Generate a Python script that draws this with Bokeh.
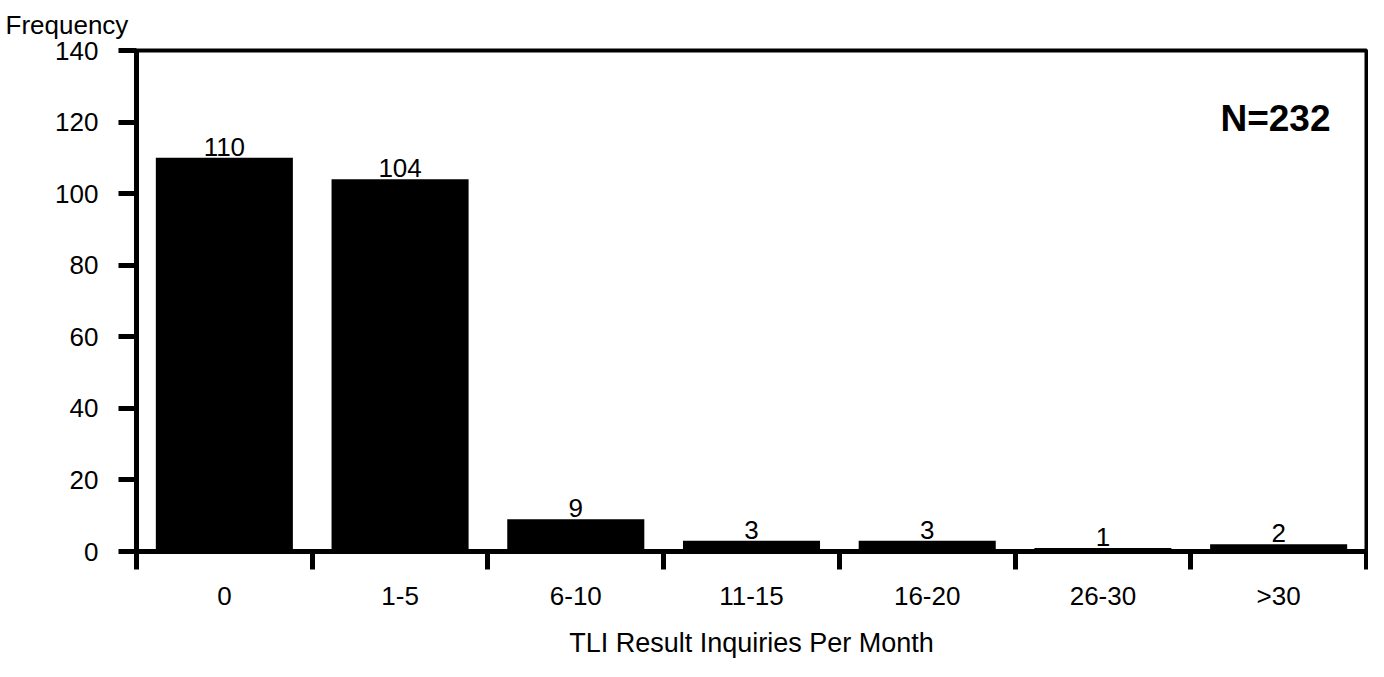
from bokeh.plotting import figure
from bokeh.models import Range1d, FixedTicker, Label, ColumnDataSource
from bokeh.core.properties import value
from bokeh.embed import file_html
from bokeh.resources import INLINE
import numpy as np

categories = ["0", "1-5", "6-10", "11-15", "16-20", "26-30", ">30"]
counts = [110, 104, 9, 3, 3, 1, 2]
y_ticks = [0, 20, 40, 60, 80, 100, 120, 140]
x_title = "TLI Result Inquiries Per Month"
y_title = "Frequency"
n_text = "N=232"

FONT = "Liberation Sans"
pos = np.arange(len(categories)) + 0.5

p = figure(width=1368, height=661, output_backend="svg", toolbar_location=None,
           x_range=Range1d(0, len(categories)), y_range=Range1d(0, 140),
           min_border_left=136, min_border_top=50, min_border_right=2,
           min_border_bottom=110)
p.grid.visible = False
p.background_fill_color = "white"
p.border_fill_color = "white"
p.outline_line_color = "black"
p.outline_line_width = 4

# y-axis caption placed as a left-aligned title
p.title.text = y_title
p.title.align = "left"
p.title.vertical_align = "top"
p.title.offset = -131
p.title.standoff = 18
p.title.text_line_height = 0.5
p.title.text_font = FONT
p.title.text_font_size = "26px"
p.title.text_font_style = "normal"
p.title.text_color = "black"

src = ColumnDataSource(dict(x=pos, top=counts, lab=[str(c) for c in counts]))
p.vbar(x="x", top="top", bottom=0, width=0.78, source=src,
       fill_color="black", line_color=None)
p.text(x="x", y="top", text="lab", source=src, text_align="center",
       text_baseline="bottom", text_font=value(FONT),
       text_font_size="26px", text_color="black", y_offset=-2)

# x axis
xa = p.xaxis[0]
xa.ticker = FixedTicker(ticks=list(pos), minor_ticks=list(range(len(categories) + 1)))
xa.major_label_overrides = {float(v): c for v, c in zip(pos, categories)}
xa.major_tick_out = 0
xa.major_tick_in = 0
xa.minor_tick_out = 18
xa.minor_tick_in = 0
xa.minor_tick_line_width = 5
xa.minor_tick_line_color = "black"
xa.axis_line_width = 5
xa.axis_line_color = "black"
xa.major_label_standoff = 11
xa.major_label_text_font = FONT
xa.major_label_text_font_size = "26px"
xa.major_label_text_color = "black"
xa.axis_label = x_title
xa.axis_label_text_font = FONT
xa.axis_label_text_font_size = "27px"
xa.axis_label_text_font_style = "normal"
xa.axis_label_text_color = "black"
xa.axis_label_standoff = 14

# y axis
ya = p.yaxis[0]
ya.ticker = FixedTicker(ticks=y_ticks, minor_ticks=[])
ya.major_tick_out = 18
ya.major_tick_in = 0
ya.major_tick_line_width = 5
ya.major_tick_line_color = "black"
ya.axis_line_width = 5
ya.axis_line_color = "black"
ya.major_label_standoff = 20
ya.major_label_text_font = FONT
ya.major_label_text_font_size = "26px"
ya.major_label_text_color = "black"

p.add_layout(Label(x=6.795, y=121, text=n_text, text_font=FONT,
                   text_font_size="37px", text_font_style="bold",
                   text_baseline="middle", text_align="right", text_color="black"))

open("out.html", "w").write(file_html(p, INLINE))
